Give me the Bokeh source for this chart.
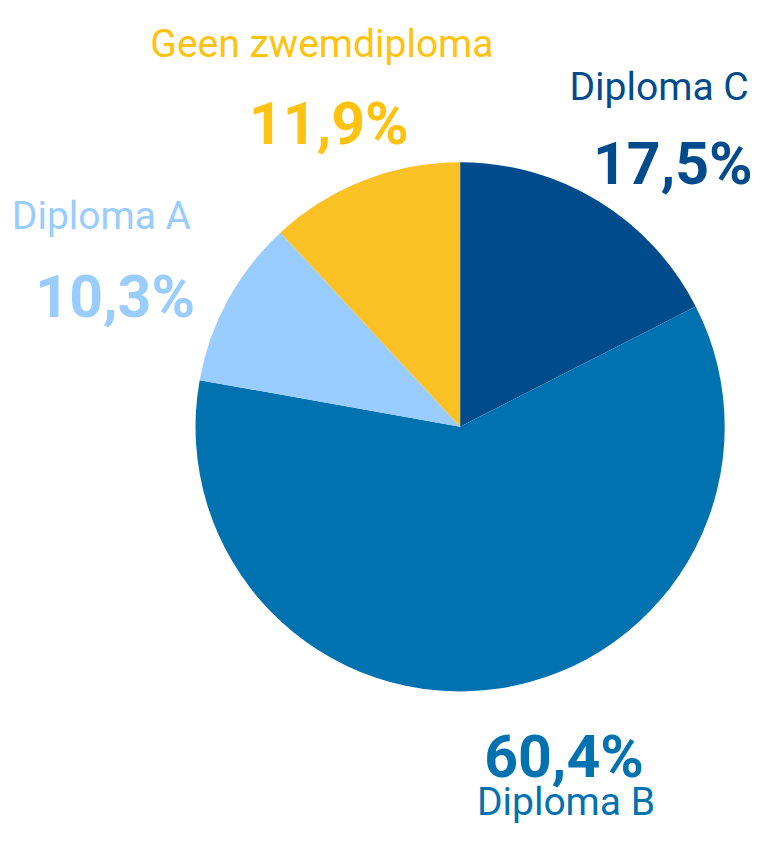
import numpy as np
from bokeh.plotting import figure
from bokeh.models import Range1d, ColumnDataSource
from bokeh.core.properties import value
from bokeh.embed import file_html
from bokeh.resources import INLINE

categories = ["Diploma C", "Diploma B", "Diploma A", "Geen zwemdiploma"]
percentages = [17.5, 60.4, 10.3, 11.9]
pct_labels = ["17,5%", "60,4%", "10,3%", "11,9%"]
slice_colors = ["#004B8C", "#0072B0", "#99CCFF", "#FCC124"]
text_colors = ["#004B8C", "#0072B0", "#99CCFF", "#FFC20E"]

W, H = 754, 830
S = 0.98  # layout scale from reference pixel grid

def px(x):
    return x * S

def py(y):
    return H - y * S

vals = np.array(percentages)
frac = vals / vals.sum()
ends = np.pi / 2 - 2 * np.pi * np.cumsum(frac)
starts = np.concatenate([[np.pi / 2], ends[:-1]])

src = ColumnDataSource(dict(start=ends, end=starts, color=slice_colors, cat=categories))

p = figure(width=W, height=H, output_backend="svg", toolbar_location=None,
           x_range=Range1d(0, W), y_range=Range1d(0, H), min_border=0)
p.axis.visible = False
p.grid.visible = False
p.outline_line_color = None
p.background_fill_color = "white"

cx, cy, r = px(469), py(435), 270 * S
p.wedge(x=cx, y=cy, radius=r, start_angle="start", end_angle="end",
        color="color", line_color=None, source=src)

# label positions on reference grid: centre x, baseline y
name_pos = [(672, 88), (577, 818), (103, 220), (328, 44)]
pct_pos = [(686, 166), (575, 771), (117, 302), (335, 125)]

lx = [px(a) for a, b in name_pos]
ly = [py(b) for a, b in name_pos]
p.text(x=lx, y=ly, text=categories, text_color=text_colors,
       text_font=value("Roboto"), text_font_size="39px",
       text_align="center", text_baseline="alphabetic")

qx = [px(a) for a, b in pct_pos]
qy = [py(b) for a, b in pct_pos]
p.text(x=qx, y=qy, text=pct_labels, text_color=text_colors,
       text_font=value("Roboto"), text_font_size="59px",
       text_font_style="bold", text_align="center", text_baseline="alphabetic")

open("out.html", "w").write(file_html(p, INLINE))
